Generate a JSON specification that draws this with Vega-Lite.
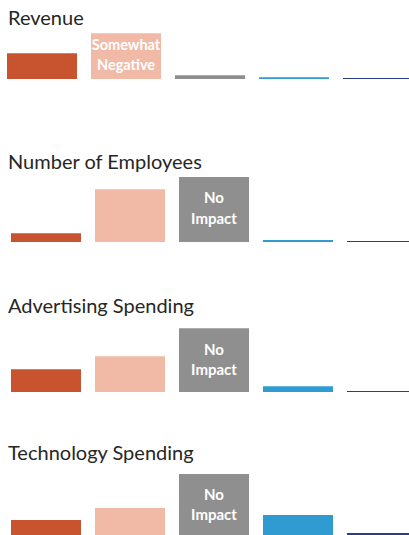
{
  "$schema": "https://vega.github.io/schema/vega-lite/v6.json",
  "padding": {"top": 9, "left": 0, "right": 0, "bottom": 0},
  "spacing": 0,
  "config": {
    "view": {"stroke": null},
    "title": {"font": "Lato", "fontSize": 20, "fontWeight": "normal", "color": "#262626", "anchor": "start", "offset": 0, "dx": 8, "frame": "group"}
  },
  "datasets": {
    "impact": [
      {"item": "Revenue", "level": "Strongly Negative", "value": 25.7, "label": ""},
      {"item": "Revenue", "level": "Somewhat Negative", "value": 45.7, "label": "Somewhat\nNegative"},
      {"item": "Revenue", "level": "No Impact", "value": 3.7, "label": ""},
      {"item": "Revenue", "level": "Somewhat Positive", "value": 1.7, "label": ""},
      {"item": "Revenue", "level": "Strongly Positive", "value": 1, "label": ""},
      {"item": "Number of Employees", "level": "Strongly Negative", "value": 8.7, "label": ""},
      {"item": "Number of Employees", "level": "Somewhat Negative", "value": 52.7, "label": ""},
      {"item": "Number of Employees", "level": "No Impact", "value": 66.7, "label": "No\nImpact"},
      {"item": "Number of Employees", "level": "Somewhat Positive", "value": 2, "label": ""},
      {"item": "Number of Employees", "level": "Strongly Positive", "value": 1, "label": ""},
      {"item": "Advertising Spending", "level": "Strongly Negative", "value": 22.7, "label": ""},
      {"item": "Advertising Spending", "level": "Somewhat Negative", "value": 35.7, "label": ""},
      {"item": "Advertising Spending", "level": "No Impact", "value": 63.7, "label": "No\nImpact"},
      {"item": "Advertising Spending", "level": "Somewhat Positive", "value": 5.7, "label": ""},
      {"item": "Advertising Spending", "level": "Strongly Positive", "value": 1, "label": ""},
      {"item": "Technology Spending", "level": "Strongly Negative", "value": 16, "label": ""},
      {"item": "Technology Spending", "level": "Somewhat Negative", "value": 28, "label": ""},
      {"item": "Technology Spending", "level": "No Impact", "value": 62, "label": "No\nImpact"},
      {"item": "Technology Spending", "level": "Somewhat Positive", "value": 21, "label": ""},
      {"item": "Technology Spending", "level": "Strongly Positive", "value": 3, "label": ""}
    ]
  },
  "vconcat": [
    {
      "title": {"text": "Revenue"},
      "width": 409, "height": 120,
      "data": {"name": "impact"},
      "transform": [{"filter": "datum.item === 'Revenue'"}],
      "encoding": {"x": {"field": "level", "type": "nominal", "sort": ["Strongly Negative", "Somewhat Negative", "No Impact", "Somewhat Positive", "Strongly Positive"], "axis": null, "scale": {"range": [0, 420], "paddingInner": 0.1667, "paddingOuter": 0.0833}}},
      "layer": [
        {"mark": {"type": "bar", "clip": true},
         "encoding": {
           "y": {"field": "value", "type": "quantitative", "axis": null, "scale": {"domain": [-74, 46], "nice": false}},
           "color": {"field": "level", "type": "nominal", "legend": null, "scale": {"domain": ["Strongly Negative", "Somewhat Negative", "No Impact", "Somewhat Positive", "Strongly Positive"], "range": ["#c8532f", "#f1baa7", "#8f8f8f", "#2f9bd0", "#283d8b"]}}}},
        {"mark": {"type": "text", "lineBreak": "\n", "font": "Lato", "fontWeight": "bold", "fontSize": 14.5, "lineHeight": 20.5, "dy": -10.3, "color": "#ffffff", "baseline": "middle", "align": "center"},
         "encoding": {
           "y": {"field": "value", "type": "quantitative", "axis": null, "scale": {"domain": [-148, 92], "nice": false}},
           "text": {"field": "label", "type": "nominal"}}}
      ],
      "resolve": {"scale": {"y": "independent"}}
    },
    {
      "title": {"text": "Number of Employees"},
      "width": 409, "height": 120,
      "data": {"name": "impact"},
      "transform": [{"filter": "datum.item === 'Number of Employees'"}],
      "encoding": {"x": {"field": "level", "type": "nominal", "sort": ["Strongly Negative", "Somewhat Negative", "No Impact", "Somewhat Positive", "Strongly Positive"], "axis": null, "scale": {"range": [4, 424], "paddingInner": 0.1667, "paddingOuter": 0.0833}}},
      "layer": [
        {"mark": {"type": "bar", "clip": true},
         "encoding": {
           "y": {"field": "value", "type": "quantitative", "axis": null, "scale": {"domain": [-55, 65], "nice": false}},
           "color": {"field": "level", "type": "nominal", "legend": null, "scale": {"domain": ["Strongly Negative", "Somewhat Negative", "No Impact", "Somewhat Positive", "Strongly Positive"], "range": ["#c8532f", "#f1baa7", "#8f8f8f", "#2f9bd0", "#283d8b"]}}}},
        {"mark": {"type": "text", "lineBreak": "\n", "font": "Lato", "fontWeight": "bold", "fontSize": 15, "lineHeight": 20.5, "dy": -10.3, "color": "#ffffff", "baseline": "middle", "align": "center"},
         "encoding": {
           "y": {"field": "value", "type": "quantitative", "axis": null, "scale": {"domain": [-110, 130], "nice": false}},
           "text": {"field": "label", "type": "nominal"}}}
      ],
      "resolve": {"scale": {"y": "independent"}}
    },
    {
      "title": {"text": "Advertising Spending"},
      "width": 409, "height": 123,
      "data": {"name": "impact"},
      "transform": [{"filter": "datum.item === 'Advertising Spending'"}],
      "encoding": {"x": {"field": "level", "type": "nominal", "sort": ["Strongly Negative", "Somewhat Negative", "No Impact", "Somewhat Positive", "Strongly Positive"], "axis": null, "scale": {"range": [4, 424], "paddingInner": 0.1667, "paddingOuter": 0.0833}}},
      "layer": [
        {"mark": {"type": "bar", "clip": true},
         "encoding": {
           "y": {"field": "value", "type": "quantitative", "axis": null, "scale": {"domain": [-52, 71], "nice": false}},
           "color": {"field": "level", "type": "nominal", "legend": null, "scale": {"domain": ["Strongly Negative", "Somewhat Negative", "No Impact", "Somewhat Positive", "Strongly Positive"], "range": ["#c8532f", "#f1baa7", "#8f8f8f", "#2f9bd0", "#283d8b"]}}}},
        {"mark": {"type": "text", "lineBreak": "\n", "font": "Lato", "fontWeight": "bold", "fontSize": 15, "lineHeight": 20.5, "dy": -10.3, "color": "#ffffff", "baseline": "middle", "align": "center"},
         "encoding": {
           "y": {"field": "value", "type": "quantitative", "axis": null, "scale": {"domain": [-104, 142], "nice": false}},
           "text": {"field": "label", "type": "nominal"}}}
      ],
      "resolve": {"scale": {"y": "independent"}}
    },
    {
      "title": {"text": "Technology Spending"},
      "width": 409, "height": 68,
      "data": {"name": "impact"},
      "transform": [{"filter": "datum.item === 'Technology Spending'"}],
      "encoding": {"x": {"field": "level", "type": "nominal", "sort": ["Strongly Negative", "Somewhat Negative", "No Impact", "Somewhat Positive", "Strongly Positive"], "axis": null, "scale": {"range": [4, 424], "paddingInner": 0.1667, "paddingOuter": 0.0833}}},
      "layer": [
        {"mark": {"type": "bar", "clip": true},
         "encoding": {
           "y": {"field": "value", "type": "quantitative", "axis": null, "scale": {"domain": [0, 68], "nice": false}},
           "color": {"field": "level", "type": "nominal", "legend": null, "scale": {"domain": ["Strongly Negative", "Somewhat Negative", "No Impact", "Somewhat Positive", "Strongly Positive"], "range": ["#c8532f", "#f1baa7", "#8f8f8f", "#2f9bd0", "#283d8b"]}}}},
        {"mark": {"type": "text", "lineBreak": "\n", "font": "Lato", "fontWeight": "bold", "fontSize": 15, "lineHeight": 20.5, "dy": -10.3, "color": "#ffffff", "baseline": "middle", "align": "center"},
         "encoding": {
           "y": {"field": "value", "type": "quantitative", "axis": null, "scale": {"domain": [0, 136], "nice": false}},
           "text": {"field": "label", "type": "nominal"}}}
      ],
      "resolve": {"scale": {"y": "independent"}}
    }
  ]
}
